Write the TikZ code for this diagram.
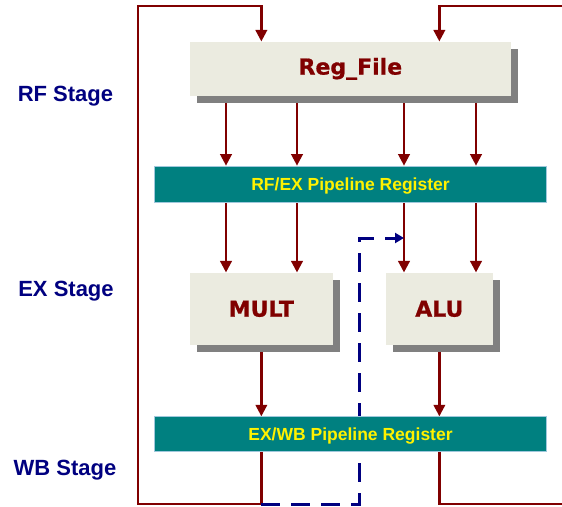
\documentclass[tikz,border=0pt]{standalone}
\usepackage{fontspec}
\newfontfamily\boxfont{DejaVu Sans}[BoldFeatures={FakeBold=0.8}]
\newfontfamily\labfont{Liberation Sans}
\usetikzlibrary{arrows.meta,shadows}
\definecolor{dred}{RGB}{128,0,0}
\definecolor{navyc}{RGB}{0,0,128}
\definecolor{beige}{RGB}{235,235,224}
\definecolor{tealc}{RGB}{0,128,128}
\definecolor{shade}{RGB}{128,128,128}
\definecolor{regedge}{RGB}{160,200,220}
\pgfdeclarelayer{bg}
\pgfdeclarelayer{paper}
\pgfsetlayers{paper,bg,main}
\begin{document}
\begin{tikzpicture}[x=1pt,y=-1pt,
  unit/.style={rectangle, fill=beige, draw=none, inner sep=0pt,
    font=\boxfont\bfseries\fontsize{22}{26}\selectfont, text=dred,
    drop shadow={shadow xshift=7pt, shadow yshift=-7pt, fill=shade, opacity=1}},
  preg/.style={rectangle, fill=tealc, draw=regedge, line width=0.8pt, inner sep=0pt,
    text depth=0pt,
    font=\labfont\bfseries\fontsize{17.5}{20}\selectfont, text=yellow},
  stage/.style={anchor=base, inner sep=0pt,
    font=\labfont\bfseries\fontsize{22}{26}\selectfont, text=navyc},
  wire/.style={draw=dred, line width=2.3pt},
  arr/.style={wire, -{Triangle[length=11.5pt,width=11.5pt]}},
  fwd/.style={draw=navyc, line width=3pt, dash pattern=on 19pt off 11pt,
    -{Triangle[length=9pt,width=10pt]}}
]
\useasboundingbox (0,0) rectangle (562,506);
\begin{pgfonlayer}{paper}
\fill[white] (0,0) rectangle (562,506);
\end{pgfonlayer}

% stage labels
\node[stage] (rfs) at (65.5,101.7) {RF Stage};
\node[stage] (exs) at (66,296.7) {EX Stage};
\node[stage] (wbs) at (65,475) {WB Stage};

% boxes
\node[unit, minimum width=320.7pt, minimum height=54.3pt] (regfile) at (350.35,68.8) {Reg\_File};
\node[preg, minimum width=392.4pt, minimum height=36.3pt] (rfex) at (350.5,184.2) {RF/EX Pipeline Register};
\node[unit, minimum width=142.7pt, minimum height=72.3pt] (mult) at (261.35,308.8) {MULT};
\node[unit, minimum width=106.7pt, minimum height=72.3pt] (alu) at (439.35,308.8) {ALU};
\node[preg, minimum width=392.4pt, minimum height=34.3pt] (exwb) at (350.5,433.85) {EX/WB Pipeline Register};

% column and corner coordinates
\coordinate (c1) at (226,0);
\coordinate (c2) at (297,0);
\coordinate (c3) at (404,0);
\coordinate (c4) at (476,0);
\coordinate (lb) at (138,504);
\coordinate (lt) at (138,6);
\coordinate (rb) at (563,504);
\coordinate (rt) at (563,6);
\coordinate (d1) at (359,504);
\coordinate (d2) at (359,238);

\begin{pgfonlayer}{bg}
% Reg_File -> RF/EX
\foreach \c in {c1,c2,c3,c4}
  \draw[arr] (regfile.south -| \c) -- (rfex.north -| \c);
% RF/EX -> MULT / ALU
\draw[arr] (rfex.south -| c1) -- (mult.north -| c1);
\draw[arr] (rfex.south -| c2) -- (mult.north -| c2);
\draw[arr] (rfex.south -| c3) -- (alu.north -| c3);
\draw[arr] (rfex.south -| c4) -- (alu.north -| c4);
% MULT / ALU -> EX/WB
\draw[arr] (mult.south) -- (exwb.north -| mult);
\draw[arr] (alu.south) -- (exwb.north -| alu);
% write-back loops
\draw[arr] (exwb.south -| mult) -- (lb -| mult) -- (lb) -- (lt) -- (lt -| mult) -- (regfile.north -| mult);
\draw[wire] (exwb.south -| alu) -- (rb -| alu) -- (rb);
\draw[arr] (rt) -- (rt -| alu) -- (regfile.north -| alu);
% forwarding path
\draw[fwd] (lb -| mult) -- (d1) -- (d2) -- (d2 -| c3);
\end{pgfonlayer}
\end{tikzpicture}
\end{document}
